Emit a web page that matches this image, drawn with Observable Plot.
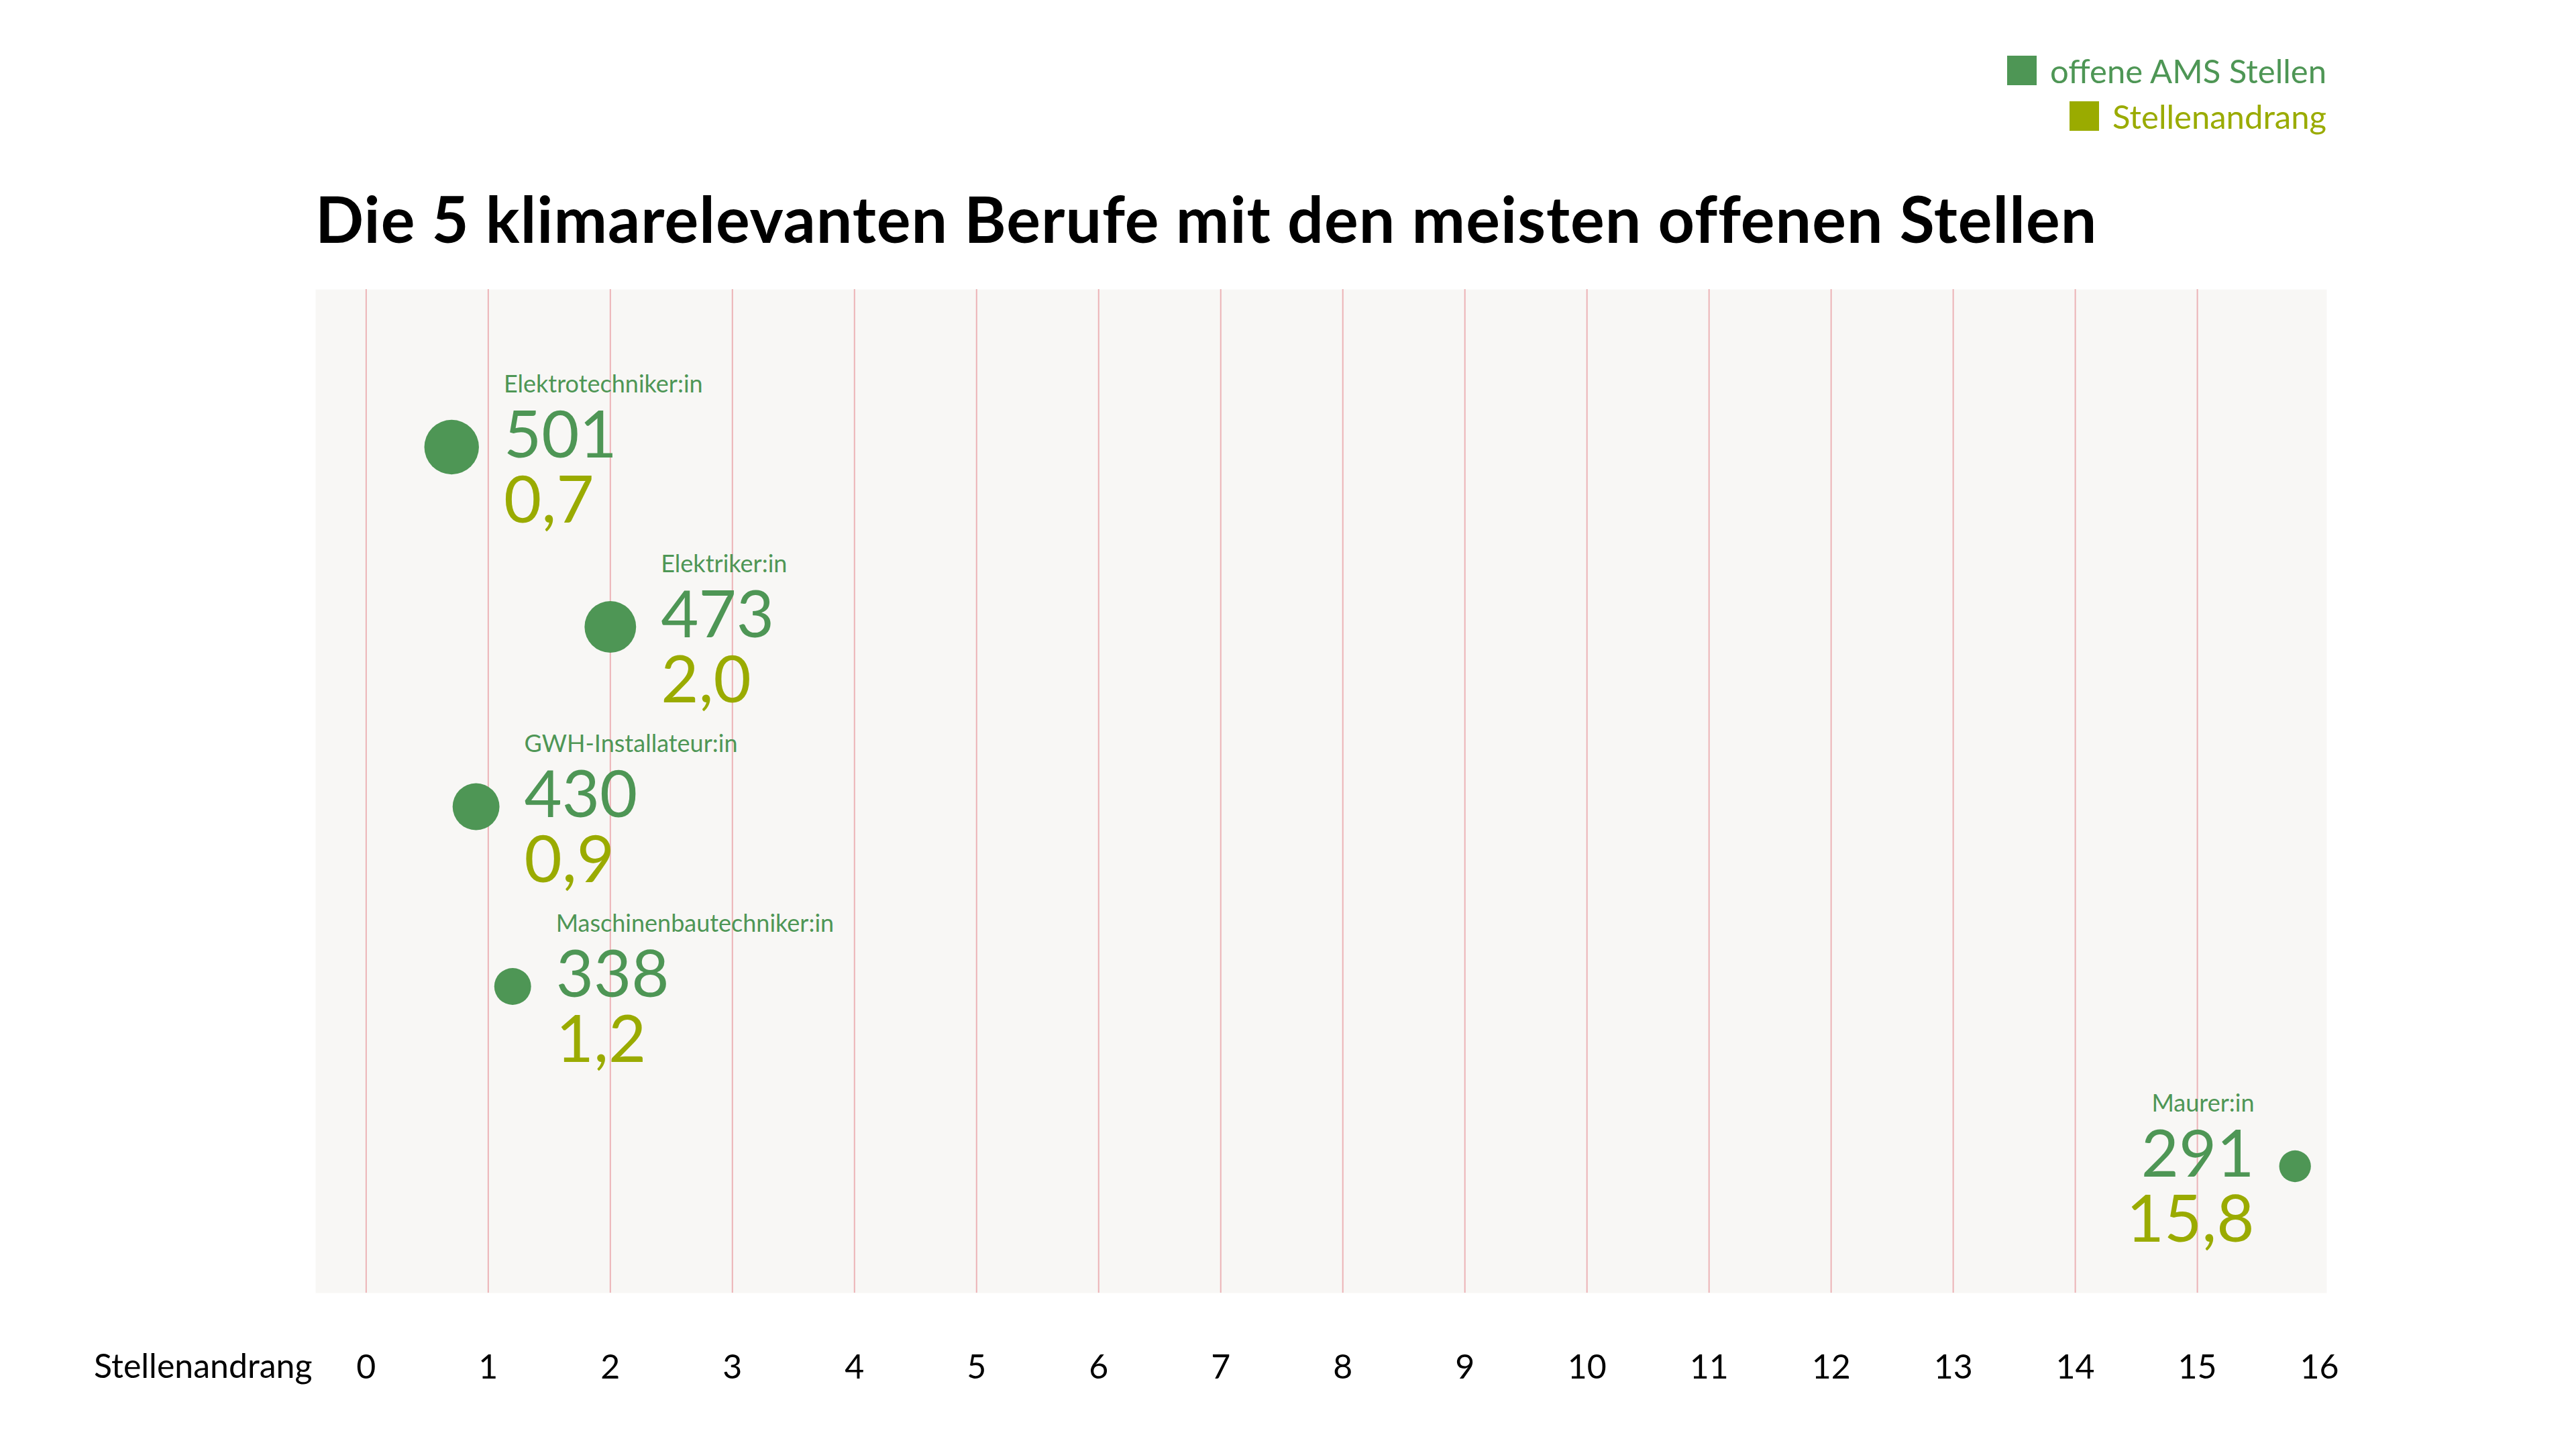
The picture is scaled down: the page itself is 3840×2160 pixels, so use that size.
<!DOCTYPE html>
<html>
<head>
<meta charset="utf-8">
<script src="https://cdn.jsdelivr.net/npm/d3@7"></script>
<script src="https://cdn.jsdelivr.net/npm/@observablehq/plot@0.6"></script>
<style>
  html, body { margin: 0; padding: 0; background: #fff; }
  body { width: 3840px; height: 2160px; position: relative; overflow: hidden; font-family: Lato, "Noto Sans", sans-serif; }
  #title { position: absolute; left: 470px; top: 278px; margin: 0; font-size: 95px; line-height: 95px; font-weight: 700; color: #000; white-space: nowrap; }
  #legend { position: absolute; right: 372px; top: 0; }
  .lg { position: absolute; right: 0; display: flex; align-items: center; white-space: nowrap; font-size: 49px; line-height: 50px; }
  .lg span.sw { width: 44px; height: 44px; margin-right: 20px; display: inline-block; }
  #chart { position: absolute; left: 0; top: 0; }
</style>
</head>
<body>
<div id="legend"></div>
<h1 id="title"></h1>
<div id="chart"></div>
<script>
const titleText = "Die 5 klimarelevanten Berufe mit den meisten offenen Stellen";
const berufe = ["Elektrotechniker:in", "Elektriker:in", "GWH-Installateur:in", "Maschinenbautechniker:in", "Maurer:in"];
const offeneStellen = [501, 473, 430, 338, 291];
const stellenandrang = [0.7, 2.0, 0.9, 1.2, 15.8];
const xTicks = [0, 1, 2, 3, 4, 5, 6, 7, 8, 9, 10, 11, 12, 13, 14, 15, 16];
const gridTicks = [0, 1, 2, 3, 4, 5, 6, 7, 8, 9, 10, 11, 12, 13, 14, 15];
const axisLabel = "Stellenandrang";
const legendLabels = ["offene AMS Stellen", "Stellenandrang"];

const GREEN = "#4e9655";
const OLIVE = "#9aab00";
const FONT = "Lato, 'Noto Sans', sans-serif";

const rows = berufe.map((b, i) => ({beruf: b, offen: offeneStellen[i], andrang: stellenandrang[i]}));
const fmt = v => v.toFixed(1).replace(".", ",");

// legend
const legend = document.getElementById("legend");
[[legendLabels[0], GREEN, 80], [legendLabels[1], OLIVE, 148]].forEach(([t, c, top]) => {
  const el = document.createElement("div");
  el.className = "lg";
  el.style.top = top + "px";
  el.style.color = c;
  el.innerHTML = `<span class="sw" style="background:${c}"></span><span>${t}</span>`;
  legend.appendChild(el);
});

document.getElementById("title").textContent = titleText;

const rMax = 40.7;
const rOf = v => v / 501 * rMax;
const side = d => d.andrang > 8 ? -1 : 1;

const labelMarks = rows.flatMap(d => {
  const s = side(d);
  const dx = s * (rOf(d.offen) + 37);
  const anchor = s > 0 ? "start" : "end";
  const common = {x: "andrang", y: "beruf", dx, textAnchor: anchor, lineAnchor: "bottom", fontFamily: FONT};
  return [
    Plot.text([d], {...common, text: "beruf", dy: -82, fill: GREEN, fontSize: 36}),
    Plot.text([d], {...common, text: r => String(r.offen), dy: 15, fill: GREEN, fontSize: 97}),
    Plot.text([d], {...common, text: r => fmt(r.andrang), dy: 112, fill: OLIVE, fontSize: 97})
  ];
});

const plot = Plot.plot({
  width: 3840,
  height: 2160,
  marginLeft: 470,
  marginRight: 372,
  marginTop: 431,
  marginBottom: 233,
  style: {fontFamily: FONT, fontSize: "50px", color: "#000", background: "transparent"},
  x: {domain: [-0.414, 16.06], axis: null, label: null},
  y: {type: "point", domain: berufe, range: [665, 1739], padding: 0, axis: null},
  r: {type: "linear", domain: [0, 501], range: [0, rMax]},
  marks: [
    Plot.frame({fill: "#f8f7f5", stroke: "none"}),
    Plot.ruleX(gridTicks, {stroke: "#ecb3b6", strokeWidth: 2}),
    Plot.axisX({ticks: xTicks, tickSize: 0, tickPadding: 92, tickFormat: d => String(d), label: null, fontSize: 50, fill: "#000"}),
    Plot.text([axisLabel], {frameAnchor: "bottom-left", dx: -5, dy: 110, textAnchor: "end", lineAnchor: "middle", fontSize: 50, fill: "#000"}),
    Plot.dot(rows, {x: "andrang", y: "beruf", r: "offen", fill: GREEN, stroke: "none"}),
    ...labelMarks
  ]
});
document.getElementById("chart").appendChild(plot);

// fit title width to the reference's measured width
const t = document.getElementById("title");
const w = t.getBoundingClientRect().width;
const target = 2652;
t.style.letterSpacing = ((target - w) / (titleText.length - 1)) + "px";
</script>
</body>
</html>
